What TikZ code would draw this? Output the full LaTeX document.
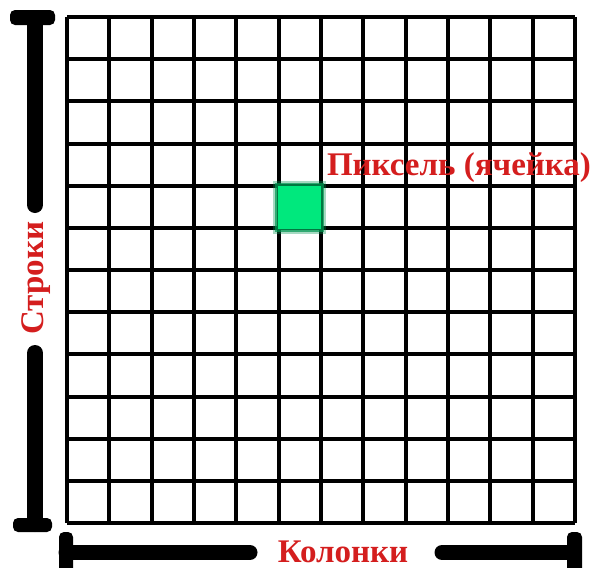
\documentclass[tikz,border=0pt]{standalone}
\usepackage{fontspec}
\setmainfont{Liberation Serif}
\definecolor{lblred}{RGB}{212,30,30}
\definecolor{pixgreen}{RGB}{0,232,125}
\definecolor{pixedge}{RGB}{0,150,80}
\begin{document}
\begin{tikzpicture}[x=1pt,y=-1pt,
  gridline/.style={line width=4pt,black},
  thickbar/.style={line width=16pt,black,line cap=round},
  barcap/.style={fill=black,rounded corners=5pt},
  axislabel/.style={text=lblred,font=\bfseries\fontsize{33}{33}\selectfont,inner sep=0pt}]
\useasboundingbox (0,0) rectangle (595,568);
% grid
\foreach \k in {0,...,12}{
  \draw[gridline] ({67+42.3333*\k},17) -- ({67+42.3333*\k},523);
  \draw[gridline] (67,{17+42.1667*\k}) -- (575,{17+42.1667*\k});
}
% pixel
\fill[pixedge,opacity=0.35] (273,181) rectangle (326,234);
\fill[pixedge,opacity=0.7] (275,183) rectangle (324,232);
\fill[pixgreen] (278,186) rectangle (321,229);
\node[axislabel,anchor=base] (pix) at (459,175) {Пиксель (ячейка)};
% rows bar
\fill[barcap] (10,10) rectangle (55,25);
\fill[barcap] (13,518) rectangle (52,532);
\coordinate (rtop) at (35,18);
\coordinate (rbot) at (35,524);
\node[axislabel,rotate=90] (rows) at (36,278) {Строки};
\coordinate (rg1) at (35,205);
\coordinate (rg2) at (35,353);
\draw[thickbar] (rtop) -- (rg1);
\draw[thickbar] (rg2) -- (rbot);
% columns bar
\fill[barcap] (59,532) rectangle (73,580);
\fill[barcap] (567,532) rectangle (582,580);
\coordinate (cl) at (66,552.5);
\coordinate (cr) at (574,552.5);
\coordinate (cg1) at (250,552.5);
\coordinate (cg2) at (442,552.5);
\draw[thickbar,line width=15pt] (cl) -- (cg1);
\draw[thickbar,line width=15pt] (cg2) -- (cr);
\node[axislabel,anchor=base] (cols) at (343,562) {Колонки};
\end{tikzpicture}
\end{document}
